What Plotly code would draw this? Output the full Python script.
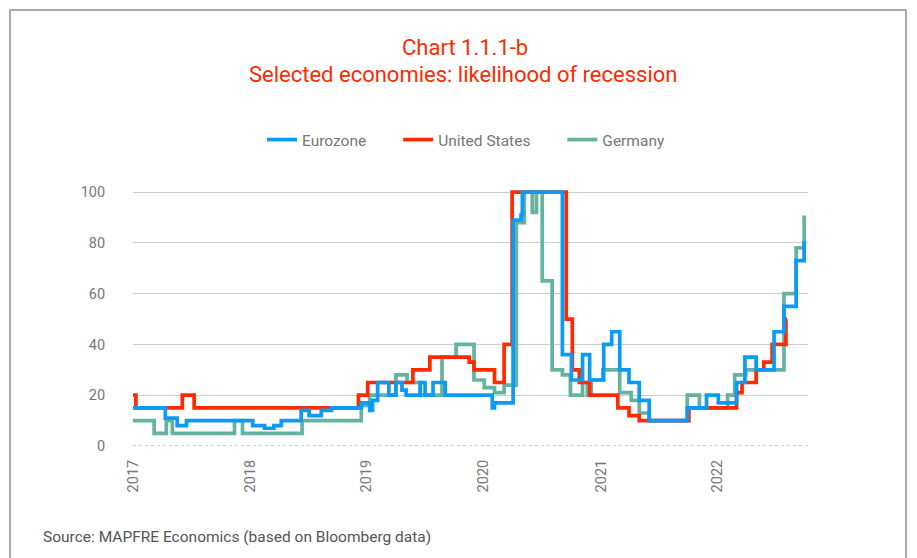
import plotly.graph_objects as go

# ---- data (step series, value holds until next date) ----
ez_dates = ["2017-01-01","2017-04-12","2017-05-19","2017-06-17","2018-01-10","2018-02-16","2018-03-17",
            "2018-04-09","2018-06-10","2018-07-05","2018-08-12","2018-09-13","2018-12-15","2019-01-10",
            "2019-01-19","2019-02-04","2019-03-11","2019-04-02","2019-04-21","2019-05-04","2019-06-17",
            "2019-07-02","2019-07-27","2019-09-03","2020-01-28","2020-02-04","2020-04-02","2020-04-27",
            "2020-05-01","2020-09-03","2020-10-01","2020-11-05","2020-11-27","2021-01-10","2021-02-04",
            "2021-03-01","2021-03-30","2021-05-01","2021-06-01","2021-09-28","2021-11-27","2022-01-03",
            "2022-03-01","2022-03-27","2022-05-01","2022-06-26","2022-07-27","2022-09-03","2022-09-28",
            "2022-10-04"]
ez_vals = [15,11,8,10,8,7,8,
           10,14,12,14,15,17,14,
           18,25,20,25,22,20,25,
           20,25,20,15,17,89,91,
           100,36,26,36,26,40,45,
           30,25,18,10,15,20,17,
           25,35,30,45,55,73,80,
           80]

us_dates = ["2017-01-01","2017-01-10","2017-06-04","2017-07-11","2018-12-06","2019-01-04","2019-05-25",
            "2019-07-17","2019-11-17","2019-12-02","2020-02-04","2020-03-05","2020-03-30","2020-09-15",
            "2020-10-04","2020-10-26","2020-11-27","2021-02-23","2021-03-30","2021-05-01","2021-10-03",
            "2022-03-01","2022-03-18","2022-05-01","2022-05-25","2022-06-20","2022-08-02","2022-08-05"]
us_vals = [20,15,20,15,20,25,30,
           35,33,30,25,40,100,50,
           30,25,20,15,12,10,15,
           21,25,30,33,40,50,50]

de_dates = ["2017-01-01","2017-03-08","2017-04-15","2017-05-04","2017-11-14","2017-12-09","2018-06-13",
            "2018-12-15","2019-01-10","2019-04-02","2019-05-07","2019-06-17","2019-08-24","2019-10-07",
            "2019-12-02","2020-01-03","2020-02-04","2020-03-05","2020-04-12","2020-05-07","2020-06-01",
            "2020-06-14","2020-07-02","2020-08-02","2020-09-03","2020-09-28","2020-11-05","2020-11-20",
            "2020-12-02","2021-01-07","2021-03-01","2021-04-06","2021-05-01","2021-06-01","2021-09-28",
            "2021-11-05","2022-02-01","2022-02-23","2022-03-30","2022-07-27","2022-09-03","2022-09-28",
            "2022-10-04"]
de_vals = [10,5,10,5,10,5,10,
           16,20,28,25,20,35,40,
           26,23,21,24,88,100,92,
           100,65,30,28,20,25,20,
           26,30,21,18,13,10,20,
           15,20,28,30,60,78,90,
           90]

year_ticks = ["2017-01-01","2018-01-01","2019-01-01","2020-01-01","2021-01-01","2022-01-01"]
year_labels = ["2017","2018","2019","2020","2021","2022"]
y_ticks = [0, 20, 40, 60, 80, 100]

BLUE = "#0b9bf6"
RED = "#ff2a00"
GREEN = "#64b3a0"
FONT = "Roboto"
PAD = "\u00a0" * 7

fig = go.Figure()
fig.add_trace(go.Scatter(x=de_dates, y=de_vals, name="Germany", mode="lines",
                         line=dict(color=GREEN, width=3.7, shape="hv"), legendrank=3))
fig.add_trace(go.Scatter(x=us_dates, y=us_vals, name="United States" + PAD, mode="lines",
                         line=dict(color=RED, width=3.7, shape="hv"), legendrank=2))
fig.add_trace(go.Scatter(x=ez_dates, y=ez_vals, name="Eurozone" + PAD, mode="lines",
                         line=dict(color=BLUE, width=3.7, shape="hv"), legendrank=1))

L, R, T, B = 133, 109, 187, 112
W, H = 917, 558
pw, ph = W - L - R, H - T - B

def px_x(p):
    return (p - L) / pw

def px_y(p):
    return (H - B - p) / ph

fig.update_layout(
    width=W, height=H,
    margin=dict(l=L, r=R, t=T, b=B),
    paper_bgcolor="white", plot_bgcolor="white",
    font=dict(family=FONT, color="#666666", size=14),
    showlegend=True,
    legend=dict(orientation="h", x=px_x(466), xanchor="center", y=px_y(140), yanchor="middle",
                font=dict(family=FONT, size=15.5, color="#777777"), itemwidth=30,
                traceorder="normal"),
    xaxis=dict(type="date", range=["2017-01-01", "2022-10-10"], tickvals=year_ticks,
               ticktext=year_labels, tickangle=-90, showgrid=False, zeroline=False,
               showline=False, ticks="outside", ticklen=7, tickcolor="rgba(0,0,0,0)",
               tickfont=dict(family=FONT, size=14.5, color="#777777")),
    yaxis=dict(range=[0, 102], tickvals=y_ticks, showgrid=True, gridcolor="#cccccc",
               gridwidth=1, zeroline=False, showline=False, ticks="outside", ticklen=24,
               tickcolor="rgba(0,0,0,0)",
               tickfont=dict(family=FONT, size=14.5, color="#777777")),
    annotations=[
        dict(text="Chart 1.1.1-b", xref="paper", yref="paper", x=px_x(465), y=px_y(47),
             xanchor="center", yanchor="middle", showarrow=False,
             font=dict(family=FONT, size=22, color=RED)),
        dict(text="Selected economies: likelihood of recession", xref="paper", yref="paper",
             x=px_x(463), y=px_y(74), xanchor="center", yanchor="middle", showarrow=False,
             font=dict(family=FONT, size=22, color=RED)),
        dict(text="Source: MAPFRE Economics (based on Bloomberg data)", xref="paper", yref="paper",
             x=px_x(41), y=px_y(537), xanchor="left", yanchor="middle", showarrow=False,
             font=dict(family=FONT, size=15.5, color="#555555")),
    ],
    shapes=[
        dict(type="line", xref="paper", yref="y", x0=0, x1=1, y0=0, y1=0,
             line=dict(color="white", width=2), layer="above"),
        dict(type="line", xref="paper", yref="y", x0=0, x1=1, y0=0, y1=0,
             line=dict(color="#999999", width=1, dash="dot"), layer="above"),
        dict(type="rect", xref="paper", yref="paper", x0=px_x(10), x1=px_x(906),
             y0=px_y(580), y1=px_y(10), line=dict(color="#aaaaaa", width=2),
             fillcolor="rgba(0,0,0,0)", layer="below"),
    ],
)

fig.write_html("out.html")
